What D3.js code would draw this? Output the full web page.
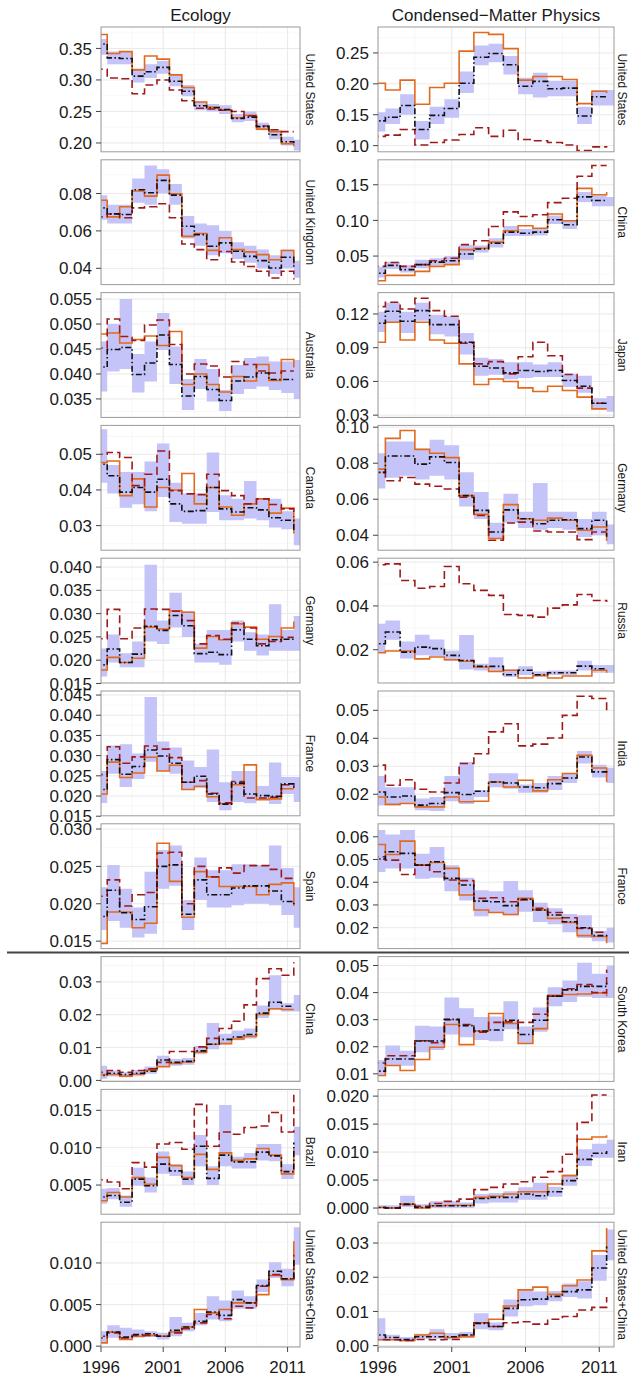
<!DOCTYPE html>
<html lang="en">
<head>
  <meta charset="UTF-8">
  <title>Ecology vs Condensed-Matter Physics</title>
  <script src="https://d3js.org/d3.v7.min.js"></script>
  <style>
    body { margin: 0; background: white; }
    svg { display: block; font-family: "Liberation Sans", Arial, Helvetica, sans-serif; }
    .grid-major { stroke: #e6e6e6; stroke-width: 0.9px; }
    .grid-minor { stroke: #f4f4f4; stroke-width: 0.6px; }
    .band { fill: #c4c4f8; stroke: none; }
    .obs { fill: none; stroke: #e3691c; stroke-width: 1.6px; }
    .alt { fill: none; stroke: #9e1a1a; stroke-width: 1.6px; stroke-dasharray: 8,4; }
    .med { fill: none; stroke: #111; stroke-width: 1.6px; stroke-dasharray: 6,2.5,1.5,2.5; }
    .border { fill: none; stroke: #9a9a9a; stroke-width: 1px; }
    .tick { stroke: #444; stroke-width: 1px; }
    .ticklabel { font-size: 17px; fill: #1a1a1a; }
    .strip { font-size: 12px; fill: #1a1a1a; }
    .title { font-size: 17px; fill: #1a1a1a; }
  </style>
</head>
<body>
<svg id="chart"></svg>
<script>
// years of each step (value k holds from year-0.5 to year+0.5)
const years = [1996, 1997, 1998, 1999, 2000, 2001, 2002, 2003, 2004, 2005, 2006, 2007, 2008, 2009, 2010, 2011, 2012];
const xTicks = [1996, 2001, 2006, 2011];
const xMinor = [1998.5, 2003.5, 2008.5];

const columnTitles = ["Ecology", "Condensed\u2212Matter Physics"];
const ecoNames = ["United States", "United Kingdom", "Australia", "Canada", "Germany", "France", "Spain", "China", "Brazil", "United States+China"];
const cmpNames = ["United States", "China", "Japan", "Germany", "Russia", "India", "France", "South Korea", "Iran", "United States+China"];

// y tick values and label decimals per panel
const ecoTicks = [[0.20,0.25,0.30,0.35],[0.04,0.06,0.08],[0.035,0.040,0.045,0.050,0.055],[0.03,0.04,0.05],
  [0.015,0.020,0.025,0.030,0.035,0.040],[0.015,0.020,0.025,0.030,0.035,0.040,0.045],[0.015,0.020,0.025,0.030],
  [0.00,0.01,0.02,0.03],[0.005,0.010,0.015],[0.000,0.005,0.010]];
const ecoDigits = [2,2,3,2,3,3,3,2,3,3];
const ecoDomains = [[0.186,0.384],[0.0313,0.098],[0.0313,0.0563],[0.0231,0.0581],[0.0151,0.0419],[0.0151,0.046],
  [0.014,0.0307],[-0.0003,0.0377],[0.0011,0.0178],[-0.0001,0.0149]];
const cmpTicks = [[0.10,0.15,0.20,0.25],[0.05,0.10,0.15],[0.03,0.06,0.09,0.12],[0.04,0.06,0.08,0.10],[0.02,0.04,0.06],
  [0.02,0.03,0.04,0.05],[0.02,0.03,0.04,0.05,0.06],[0.01,0.02,0.03,0.04,0.05],[0.000,0.005,0.010,0.015,0.020],[0.00,0.01,0.02,0.03]];
const cmpDigits = [2,2,2,2,2,2,2,2,3,2];
const cmpDomains = [[0.09,0.292],[0.01,0.185],[0.028,0.139],[0.0317,0.101],[0.0048,0.0618],[0.0123,0.0569],
  [0.0108,0.0657],[0.0072,0.0533],[-0.0011,0.0212],[-0.0004,0.0361]];

// ---- Ecology ----
const ecoUS = {
  obs: [0.372,0.342,0.345,0.316,0.338,0.333,0.308,0.288,0.265,0.257,0.252,0.240,0.244,0.222,0.218,0.199,0.195],
  alt: [0.317,0.303,0.302,0.278,0.292,0.300,0.284,0.267,0.255,0.254,0.252,0.250,0.243,0.227,0.221,0.218,0.218],
  med: [0.357,0.335,0.334,0.306,0.313,0.320,0.298,0.282,0.259,0.256,0.253,0.239,0.241,0.226,0.213,0.202,0.200],
  lo:  [0.340,0.325,0.325,0.296,0.303,0.310,0.290,0.274,0.252,0.250,0.246,0.233,0.235,0.220,0.206,0.196,0.188],
  hi:  [0.365,0.345,0.345,0.318,0.325,0.330,0.310,0.292,0.266,0.262,0.260,0.246,0.250,0.232,0.221,0.210,0.205]
};
const ecoUK = {
  obs: [0.0764,0.0675,0.0729,0.0813,0.0786,0.0898,0.0798,0.0571,0.0586,0.0496,0.0563,0.0500,0.0488,0.0473,0.0446,0.0495,0.0420],
  alt: [0.0675,0.0690,0.0670,0.0723,0.0729,0.0745,0.0670,0.0530,0.0500,0.0446,0.0490,0.0434,0.0410,0.0384,0.0348,0.0384,0.0340],
  med: [0.0723,0.0691,0.0688,0.0820,0.0804,0.0870,0.0791,0.0625,0.0580,0.0518,0.0536,0.0491,0.0464,0.0441,0.0402,0.0459,0.0400],
  lo:  [0.066,0.064,0.064,0.075,0.074,0.080,0.074,0.056,0.052,0.047,0.048,0.045,0.043,0.040,0.037,0.040,0.035],
  hi:  [0.079,0.074,0.074,0.088,0.095,0.093,0.085,0.068,0.064,0.063,0.060,0.054,0.052,0.050,0.047,0.050,0.044]
};
const ecoAustralia = {
  obs: [0.0480,0.0482,0.0462,0.0469,0.0476,0.0457,0.0485,0.0379,0.0400,0.0379,0.0364,0.0395,0.0386,0.0419,0.0387,0.0429,0.0413],
  alt: [0.0452,0.0510,0.0475,0.0467,0.0498,0.0508,0.0459,0.0400,0.0420,0.0416,0.0394,0.0425,0.0419,0.0406,0.0402,0.0406,0.0406],
  med: [0.0414,0.0449,0.0453,0.0399,0.0422,0.0478,0.0419,0.0356,0.0395,0.0369,0.0347,0.0386,0.0394,0.0402,0.0389,0.0389,0.0386],
  lo:  [0.0365,0.0405,0.0410,0.0363,0.0385,0.0448,0.0380,0.0328,0.0370,0.0345,0.0326,0.0360,0.0370,0.0375,0.0368,0.0362,0.0350],
  hi:  [0.0465,0.0500,0.0550,0.0440,0.0465,0.0522,0.0455,0.0390,0.0430,0.0410,0.0368,0.0418,0.0432,0.0435,0.0425,0.0425,0.0428]
};
const ecoCanada = {
  obs: [0.0477,0.0481,0.0384,0.0431,0.0352,0.0407,0.0400,0.0446,0.0361,0.0407,0.0352,0.0329,0.0361,0.0375,0.0335,0.0349,0.0278],
  alt: [0.0500,0.0505,0.0491,0.0412,0.0444,0.0509,0.0398,0.0389,0.0387,0.0444,0.0398,0.0384,0.0361,0.0375,0.0359,0.0347,0.0324],
  med: [0.0472,0.0440,0.0394,0.0407,0.0394,0.0430,0.0361,0.0340,0.0342,0.0407,0.0347,0.0338,0.0350,0.0344,0.0322,0.0315,0.0282],
  lo:  [0.042,0.039,0.035,0.036,0.034,0.038,0.031,0.0305,0.0305,0.0338,0.0315,0.0315,0.032,0.0315,0.0295,0.029,0.0245],
  hi:  [0.057,0.047,0.045,0.045,0.048,0.053,0.042,0.039,0.039,0.0505,0.0385,0.0375,0.0425,0.0375,0.0375,0.034,0.032]
};
const ecoGermany = {
  obs: [0.0179,0.0206,0.0195,0.0204,0.0271,0.0267,0.0306,0.0303,0.0226,0.0251,0.0244,0.0278,0.0271,0.0245,0.0251,0.0269,0.0283],
  alt: [0.0246,0.0309,0.0246,0.0269,0.0310,0.0309,0.0305,0.0285,0.0235,0.0253,0.0245,0.0280,0.0269,0.0235,0.0240,0.0249,0.0249],
  med: [0.0190,0.0224,0.0195,0.0213,0.0273,0.0264,0.0296,0.0274,0.0214,0.0217,0.0212,0.0265,0.0245,0.0231,0.0244,0.0245,0.0245],
  lo:  [0.0165,0.0195,0.0185,0.0185,0.0240,0.0235,0.0270,0.0250,0.0195,0.0195,0.0190,0.0240,0.0220,0.0210,0.0220,0.0220,0.0220],
  hi:  [0.0225,0.0255,0.0215,0.0240,0.0405,0.0285,0.0345,0.0305,0.0235,0.0265,0.0265,0.0285,0.0260,0.0255,0.0320,0.0265,0.0295]
};
const ecoFrance = {
  obs: [0.0205,0.0284,0.0246,0.0257,0.0296,0.0262,0.0276,0.0216,0.0224,0.0198,0.0181,0.0228,0.0277,0.0191,0.0193,0.0218,0.0218],
  alt: [0.0253,0.0322,0.0281,0.0297,0.0324,0.0316,0.0295,0.0234,0.0238,0.0207,0.0183,0.0236,0.0195,0.0195,0.0197,0.0228,0.0220],
  med: [0.0216,0.0290,0.0254,0.0273,0.0314,0.0299,0.0281,0.0234,0.0249,0.0205,0.0180,0.0232,0.0205,0.0201,0.0199,0.0230,0.0221],
  lo:  [0.0183,0.0255,0.0222,0.0242,0.0285,0.0262,0.0255,0.0215,0.0220,0.0185,0.0165,0.0185,0.0182,0.0190,0.0180,0.0205,0.0185],
  hi:  [0.0262,0.0325,0.0328,0.0305,0.0445,0.0335,0.0320,0.0288,0.0272,0.0315,0.0234,0.0262,0.0262,0.0225,0.0283,0.0247,0.0247]
};
const ecoSpain = {
  obs: [0.0147,0.0189,0.0189,0.0168,0.0174,0.0281,0.0230,0.0182,0.0243,0.0236,0.0223,0.0223,0.0223,0.0212,0.0226,0.0228,0.0197],
  alt: [0.0210,0.0232,0.0197,0.0212,0.0215,0.0268,0.0269,0.0200,0.0250,0.0236,0.0248,0.0241,0.0251,0.0251,0.0246,0.0234,0.0235],
  med: [0.0183,0.0218,0.0188,0.0179,0.0196,0.0250,0.0252,0.0186,0.0232,0.0212,0.0212,0.0221,0.0224,0.0224,0.0217,0.0203,0.0198],
  lo:  [0.0165,0.0177,0.0168,0.0155,0.0160,0.0220,0.0224,0.0165,0.0205,0.0195,0.0195,0.0198,0.0200,0.0200,0.0198,0.0185,0.0168],
  hi:  [0.0222,0.0252,0.0220,0.0195,0.0243,0.0272,0.0278,0.0205,0.0262,0.0245,0.0245,0.0253,0.0253,0.0252,0.0278,0.0248,0.0222]
};
const ecoChina = {
  obs: [0.0018,0.0018,0.0013,0.0019,0.0031,0.0042,0.0052,0.0056,0.0086,0.0110,0.0112,0.0126,0.0134,0.0201,0.0218,0.0216,0.0216],
  alt: [0.0025,0.0030,0.0025,0.0030,0.0035,0.0055,0.0088,0.0088,0.0102,0.0128,0.0158,0.0180,0.0230,0.0310,0.0340,0.0320,0.0360],
  med: [0.0015,0.0022,0.0018,0.0022,0.0028,0.0062,0.0055,0.0058,0.0090,0.0110,0.0125,0.0132,0.0140,0.0205,0.0238,0.0226,0.0226],
  lo:  [0.0005,0.0012,0.0010,0.0013,0.0020,0.0045,0.0045,0.0048,0.0080,0.0095,0.0110,0.0122,0.0128,0.0190,0.0215,0.0210,0.0210],
  hi:  [0.0045,0.0030,0.0025,0.0032,0.0042,0.0075,0.0065,0.0068,0.0105,0.0175,0.0142,0.0152,0.0158,0.0228,0.0320,0.0235,0.0260]
};
const ecoBrazil = {
  obs: [0.0029,0.0040,0.0034,0.0060,0.0051,0.0087,0.0076,0.0060,0.0091,0.0071,0.0093,0.0083,0.0085,0.0099,0.0090,0.0065,0.0098],
  alt: [0.0057,0.0054,0.0045,0.0080,0.0074,0.0105,0.0107,0.0098,0.0158,0.0102,0.0121,0.0118,0.0127,0.0129,0.0147,0.0121,0.0171],
  med: [0.0034,0.0036,0.0027,0.0058,0.0049,0.0078,0.0069,0.0058,0.0102,0.0059,0.0090,0.0081,0.0081,0.0094,0.0089,0.0068,0.0107],
  lo:  [0.0025,0.0031,0.0021,0.0049,0.0040,0.0065,0.0062,0.0050,0.0075,0.0050,0.0075,0.0072,0.0072,0.0083,0.0082,0.0058,0.0090],
  hi:  [0.0045,0.0046,0.0036,0.0073,0.0060,0.0095,0.0078,0.0068,0.0117,0.0075,0.0157,0.0088,0.0093,0.0105,0.0105,0.0078,0.0128]
};
const ecoUSChina = {
  obs: [0.0004,0.0017,0.0008,0.0012,0.0013,0.0012,0.0017,0.0023,0.0044,0.0040,0.0044,0.0052,0.0052,0.0062,0.0085,0.0080,0.0126],
  alt: [0.0010,0.0016,0.0010,0.0013,0.0013,0.0012,0.0016,0.0021,0.0028,0.0038,0.0033,0.0048,0.0046,0.0072,0.0086,0.0081,0.0110],
  med: [0.0012,0.0017,0.0011,0.0014,0.0015,0.0012,0.0019,0.0023,0.0030,0.0041,0.0037,0.0056,0.0052,0.0073,0.0090,0.0081,0.0104],
  lo:  [0.0005,0.0010,0.0008,0.0010,0.0011,0.0008,0.0012,0.0018,0.0025,0.0032,0.0030,0.0045,0.0045,0.0065,0.0082,0.0072,0.0098],
  hi:  [0.0018,0.0025,0.0022,0.0020,0.0018,0.0016,0.0035,0.0028,0.0040,0.0060,0.0055,0.0067,0.0060,0.0080,0.0101,0.0093,0.0143]
};

// ---- Condensed-Matter Physics ----
const cmpUS = {
  obs: [0.201,0.190,0.206,0.167,0.194,0.201,0.253,0.283,0.280,0.257,0.206,0.212,0.212,0.207,0.168,0.188,0.185],
  alt: [0.115,0.117,0.126,0.101,0.105,0.109,0.118,0.129,0.115,0.125,0.110,0.108,0.105,0.101,0.092,0.098,0.097],
  med: [0.140,0.146,0.165,0.126,0.149,0.160,0.201,0.243,0.249,0.231,0.196,0.204,0.192,0.193,0.148,0.179,0.179],
  lo:  [0.123,0.135,0.150,0.110,0.135,0.145,0.185,0.230,0.235,0.215,0.183,0.178,0.180,0.180,0.135,0.165,0.165],
  hi:  [0.154,0.160,0.183,0.140,0.163,0.175,0.220,0.262,0.265,0.245,0.210,0.218,0.205,0.205,0.163,0.190,0.190]
};
const cmpChina = {
  obs: [0.0155,0.023,0.023,0.0285,0.0355,0.038,0.059,0.061,0.0696,0.0855,0.0925,0.089,0.109,0.0995,0.145,0.136,0.140],
  alt: [0.0355,0.041,0.0355,0.038,0.0435,0.047,0.066,0.0715,0.0915,0.112,0.1055,0.108,0.125,0.131,0.162,0.177,0.177],
  med: [0.026,0.037,0.031,0.038,0.0415,0.0435,0.053,0.060,0.068,0.0836,0.082,0.0836,0.101,0.094,0.133,0.128,0.128],
  lo:  [0.020,0.032,0.027,0.033,0.037,0.039,0.045,0.055,0.062,0.078,0.078,0.079,0.095,0.088,0.126,0.120,0.120],
  hi:  [0.035,0.042,0.037,0.045,0.047,0.050,0.066,0.065,0.075,0.092,0.088,0.089,0.107,0.100,0.140,0.135,0.133]
};
const cmpJapan = {
  obs: [0.0948,0.1126,0.0969,0.1126,0.0969,0.0940,0.0756,0.0572,0.0622,0.0599,0.0543,0.0510,0.0557,0.0519,0.0460,0.0356,0.0356],
  alt: [0.1265,0.1304,0.1244,0.1340,0.1230,0.1180,0.0940,0.0756,0.0776,0.0667,0.0820,0.0948,0.0829,0.0661,0.0540,0.0406,0.0406],
  med: [0.1117,0.1224,0.1135,0.1230,0.1105,0.1105,0.0948,0.0735,0.0720,0.0676,0.0697,0.0688,0.0697,0.0608,0.0557,0.0406,0.0406],
  lo:  [0.104,0.112,0.103,0.114,0.102,0.100,0.084,0.065,0.066,0.062,0.063,0.064,0.064,0.055,0.050,0.035,0.033],
  hi:  [0.122,0.130,0.122,0.130,0.119,0.118,0.103,0.081,0.080,0.077,0.077,0.075,0.077,0.067,0.065,0.045,0.047]
};
const cmpGermany = {
  obs: [0.0767,0.0938,0.0982,0.0877,0.0855,0.0831,0.0620,0.0516,0.0382,0.0570,0.0492,0.0483,0.0495,0.0483,0.0428,0.0446,0.0370],
  alt: [0.0749,0.0703,0.0721,0.0684,0.0672,0.0657,0.0611,0.0510,0.0372,0.0468,0.0473,0.0424,0.0418,0.0418,0.0376,0.0418,0.0418],
  med: [0.0749,0.0840,0.0840,0.0795,0.0835,0.0804,0.0620,0.0538,0.0418,0.0541,0.0492,0.0464,0.0483,0.0486,0.0437,0.0483,0.0391],
  lo:  [0.066,0.072,0.073,0.071,0.073,0.071,0.056,0.049,0.038,0.047,0.044,0.043,0.044,0.043,0.039,0.040,0.035],
  hi:  [0.0855,0.092,0.092,0.088,0.093,0.090,0.075,0.064,0.047,0.063,0.053,0.069,0.053,0.053,0.049,0.053,0.046]
};
const cmpRussia = {
  obs: [0.0186,0.0194,0.0194,0.0158,0.0167,0.0154,0.0147,0.0121,0.0101,0.0106,0.0071,0.0083,0.0071,0.0080,0.0080,0.0106,0.0095],
  alt: [0.0588,0.0592,0.0516,0.0481,0.0489,0.0580,0.0501,0.0471,0.0448,0.0361,0.0357,0.0349,0.0390,0.0405,0.0452,0.0425,0.0418],
  med: [0.0227,0.0281,0.0189,0.0212,0.0205,0.0174,0.0151,0.0124,0.0124,0.0086,0.0106,0.0086,0.0095,0.0095,0.0125,0.0113,0.0113],
  lo:  [0.0185,0.0245,0.0160,0.0175,0.0170,0.0150,0.0110,0.0105,0.0105,0.0075,0.0085,0.0075,0.0085,0.0085,0.0105,0.0095,0.0095],
  hi:  [0.0319,0.0334,0.0238,0.0268,0.0247,0.0195,0.0267,0.0136,0.0166,0.0110,0.0125,0.0100,0.0105,0.0105,0.0150,0.0130,0.0130]
};
const cmpIndia = {
  obs: [0.0190,0.0164,0.0167,0.0155,0.0155,0.0190,0.0173,0.0175,0.0244,0.0226,0.0250,0.0212,0.0252,0.0274,0.0339,0.0294,0.0244],
  alt: [0.0304,0.0232,0.0252,0.0218,0.0208,0.0240,0.0310,0.0345,0.0423,0.0452,0.0373,0.0379,0.0401,0.0482,0.0550,0.0542,0.0500],
  med: [0.0208,0.0190,0.0194,0.0161,0.0167,0.0206,0.0199,0.0211,0.0244,0.0240,0.0226,0.0223,0.0238,0.0258,0.0333,0.0280,0.0270],
  lo:  [0.0160,0.0160,0.0165,0.0143,0.0140,0.0175,0.0165,0.0190,0.0225,0.0220,0.0205,0.0205,0.0215,0.0240,0.0310,0.0260,0.0240],
  hi:  [0.0265,0.0225,0.0225,0.0185,0.0190,0.0265,0.0315,0.0215,0.0275,0.0275,0.0235,0.0240,0.0265,0.0275,0.0355,0.0305,0.0295]
};
const cmpFrance = {
  obs: [0.0566,0.0522,0.0581,0.0475,0.0487,0.0461,0.0344,0.0278,0.0267,0.0258,0.0329,0.0278,0.0241,0.0223,0.0165,0.0161,0.0131],
  alt: [0.0512,0.0497,0.0434,0.0475,0.0446,0.0410,0.0407,0.0329,0.0332,0.0314,0.0322,0.0285,0.0267,0.0244,0.0197,0.0180,0.0182],
  med: [0.0502,0.0534,0.0527,0.0475,0.0490,0.0417,0.0388,0.0317,0.0314,0.0297,0.0325,0.0278,0.0256,0.0226,0.0200,0.0165,0.0160],
  lo:  [0.0445,0.0460,0.0460,0.0415,0.0420,0.0360,0.0320,0.0250,0.0265,0.0255,0.0270,0.0225,0.0215,0.0180,0.0155,0.0140,0.0135],
  hi:  [0.0630,0.0610,0.0630,0.0525,0.0555,0.0475,0.0420,0.0365,0.0360,0.0405,0.0365,0.0310,0.0285,0.0260,0.0255,0.0185,0.0200]
};
const cmpKorea = {
  obs: [0.0094,0.0131,0.0112,0.0153,0.0198,0.0282,0.0208,0.0258,0.0323,0.0286,0.0212,0.0267,0.0390,0.0393,0.0395,0.0399,0.0387],
  alt: [0.0140,0.0167,0.0167,0.0222,0.0215,0.0300,0.0282,0.0254,0.0290,0.0292,0.0290,0.0320,0.0387,0.0414,0.0430,0.0400,0.0485],
  med: [0.0110,0.0155,0.0155,0.0221,0.0221,0.0301,0.0278,0.0258,0.0262,0.0298,0.0245,0.0298,0.0387,0.0410,0.0423,0.0423,0.0436],
  lo:  [0.0095,0.0130,0.0130,0.0180,0.0188,0.0245,0.0235,0.0225,0.0220,0.0265,0.0210,0.0255,0.0350,0.0365,0.0385,0.0380,0.0380],
  hi:  [0.0150,0.0205,0.0185,0.0278,0.0275,0.0382,0.0342,0.0310,0.0312,0.0368,0.0275,0.0345,0.0420,0.0445,0.0510,0.0470,0.0500]
};
const cmpIran = {
  obs: [0.0001,0.0000,0.0007,0.0000,0.0004,0.0005,0.0005,0.0019,0.0021,0.0025,0.0029,0.0029,0.0043,0.0058,0.0123,0.0127,0.0130],
  alt: [0.0001,0.0000,0.0006,0.0003,0.0008,0.0012,0.0016,0.0033,0.0037,0.0043,0.0047,0.0055,0.0065,0.0096,0.0153,0.0202,0.0202],
  med: [0.0001,0.0000,0.0007,0.0001,0.0004,0.0004,0.0004,0.0017,0.0019,0.0019,0.0025,0.0022,0.0029,0.0049,0.0087,0.0098,0.0102],
  lo:  [0.0000,0.0000,0.0002,0.0000,0.0000,0.0000,0.0000,0.0008,0.0010,0.0010,0.0015,0.0015,0.0020,0.0040,0.0075,0.0090,0.0090],
  hi:  [0.0005,0.0005,0.0022,0.0007,0.0012,0.0012,0.0010,0.0025,0.0027,0.0030,0.0037,0.0045,0.0038,0.0060,0.0105,0.0115,0.0122]
};
const cmpUSChina = {
  obs: [0.0017,0.0017,0.0015,0.0031,0.0036,0.0024,0.0026,0.0067,0.0077,0.0116,0.0163,0.0171,0.0150,0.0175,0.0192,0.0277,0.0344],
  alt: [0.0018,0.0017,0.0015,0.0018,0.0017,0.0018,0.0031,0.0067,0.0056,0.0067,0.0070,0.0063,0.0077,0.0085,0.0104,0.0112,0.0142],
  med: [0.0031,0.0024,0.0018,0.0026,0.0026,0.0026,0.0031,0.0065,0.0056,0.0109,0.0134,0.0136,0.0144,0.0158,0.0163,0.0227,0.0290],
  lo:  [0.0015,0.0015,0.0012,0.0020,0.0020,0.0018,0.0022,0.0048,0.0045,0.0085,0.0115,0.0118,0.0130,0.0142,0.0138,0.0190,0.0250],
  hi:  [0.0080,0.0032,0.0025,0.0035,0.0048,0.0037,0.0040,0.0095,0.0068,0.0135,0.0165,0.0158,0.0160,0.0182,0.0188,0.0265,0.0340]
};

const ecoPanels = [ecoUS, ecoUK, ecoAustralia, ecoCanada, ecoGermany, ecoFrance, ecoSpain, ecoChina, ecoBrazil, ecoUSChina];
const cmpPanels = [cmpUS, cmpChina, cmpJapan, cmpGermany, cmpRussia, cmpIndia, cmpFrance, cmpKorea, cmpIran, cmpUSChina];

// Layout
const W = 629, H = 1378;
const panelTop = 27, panelH = 124.8, panelGap = 8;
const columns = [
  { x0: 101, x1: 300, strip: 310, panels: ecoPanels, names: ecoNames, ticks: ecoTicks, digits: ecoDigits, domains: ecoDomains },
  { x0: 378, x1: 614, strip: 622, panels: cmpPanels, names: cmpNames, ticks: cmpTicks, digits: cmpDigits, domains: cmpDomains }
];

const svg = d3.select("#chart").attr("width", W).attr("height", H);
svg.append("rect").attr("width", W).attr("height", H).attr("fill", "white");

columns.forEach((col, ci) => {
  const x = d3.scaleLinear().domain([1996, 2012]).range([col.x0, col.x1]);

  svg.append("text").attr("class", "title")
    .attr("x", (col.x0 + col.x1) / 2).attr("y", 20.5)
    .attr("text-anchor", "middle").text(columnTitles[ci]);

  col.panels.forEach((p, i) => {
    const top = panelTop + i * (panelH + panelGap);
    const y = d3.scaleLinear().domain(col.domains[i]).range([top + panelH, top]);
    const g = svg.append("g");
    const clipId = `clip-${ci}-${i}`;
    svg.append("clipPath").attr("id", clipId).append("rect")
      .attr("x", col.x0).attr("y", top).attr("width", col.x1 - col.x0).attr("height", panelH);

    // grid lines
    const ticks = col.ticks[i];
    const step = ticks[1] - ticks[0];
    const yMinor = [ticks[0] - step / 2].concat(ticks.map(t => t + step / 2))
      .filter(v => v > col.domains[i][0] && v < col.domains[i][1]);
    const grid = g.append("g").attr("clip-path", `url(#${clipId})`);
    grid.selectAll(".gyminor").data(yMinor).join("line").attr("class", "grid-minor")
      .attr("x1", col.x0).attr("x2", col.x1).attr("y1", d => y(d)).attr("y2", d => y(d));
    grid.selectAll(".gxminor").data(xMinor).join("line").attr("class", "grid-minor")
      .attr("x1", d => x(d)).attr("x2", d => x(d)).attr("y1", top).attr("y2", top + panelH);
    grid.selectAll(".gymajor").data(ticks).join("line").attr("class", "grid-major")
      .attr("x1", col.x0).attr("x2", col.x1).attr("y1", d => y(d)).attr("y2", d => y(d));
    grid.selectAll(".gxmajor").data(xTicks).join("line").attr("class", "grid-major")
      .attr("x1", d => x(d)).attr("x2", d => x(d)).attr("y1", top).attr("y2", top + panelH);

    // data
    const pts = years.map((yr, k) => ({ x: yr - 0.5, obs: p.obs[k], alt: p.alt[k], med: p.med[k], lo: p.lo[k], hi: p.hi[k] }));
    const bandPts = pts.concat([Object.assign({}, pts[pts.length - 1], { x: years[years.length - 1] + 0.5 })]);
    const plot = g.append("g").attr("clip-path", `url(#${clipId})`);
    plot.append("path").attr("class", "band")
      .attr("d", d3.area().curve(d3.curveStepAfter).x(d => x(d.x)).y0(d => y(d.lo)).y1(d => y(d.hi))(bandPts));
    ["obs", "alt", "med"].forEach(key => {
      plot.append("path").attr("class", key)
        .attr("d", d3.line().curve(d3.curveStepAfter).x(d => x(d.x)).y(d => y(d[key]))(pts));
    });

    g.append("rect").attr("class", "border")
      .attr("x", col.x0).attr("y", top).attr("width", col.x1 - col.x0).attr("height", panelH);

    // y axis
    const fmt = d3.format(`.${col.digits[i]}f`);
    const yAxis = g.append("g");
    yAxis.selectAll("line").data(ticks).join("line").attr("class", "tick")
      .attr("x1", col.x0 - 5).attr("x2", col.x0).attr("y1", d => y(d)).attr("y2", d => y(d));
    yAxis.selectAll("text").data(ticks).join("text").attr("class", "ticklabel")
      .attr("x", col.x0 - 9).attr("y", d => y(d)).attr("dy", "0.36em")
      .attr("text-anchor", "end").text(d => fmt(d));

    // strip label
    const cy = top + panelH / 2;
    g.append("text").attr("class", "strip")
      .attr("transform", `translate(${col.strip},${cy}) rotate(90)`)
      .attr("text-anchor", "middle").attr("dy", "0.35em")
      .text(col.names[i]);

    // x axis on last row
    if (i === col.panels.length - 1) {
      const bottom = top + panelH;
      const xAxis = g.append("g");
      xAxis.selectAll("line").data(xTicks).join("line").attr("class", "tick")
        .attr("x1", d => x(d)).attr("x2", d => x(d)).attr("y1", bottom).attr("y2", bottom + 5);
      xAxis.selectAll("text").data(xTicks).join("text").attr("class", "ticklabel")
        .attr("x", d => x(d)).attr("y", bottom + 26)
        .attr("text-anchor", "middle").text(d => d);
    }
  });
});

// separator between the two groups of countries
const sepY = panelTop + 7 * (panelH + panelGap) - panelGap / 2;
svg.append("line").attr("x1", 7).attr("x2", W).attr("y1", sepY).attr("y2", sepY)
  .attr("stroke", "#444").attr("stroke-width", 2);
</script>
</body>
</html>
